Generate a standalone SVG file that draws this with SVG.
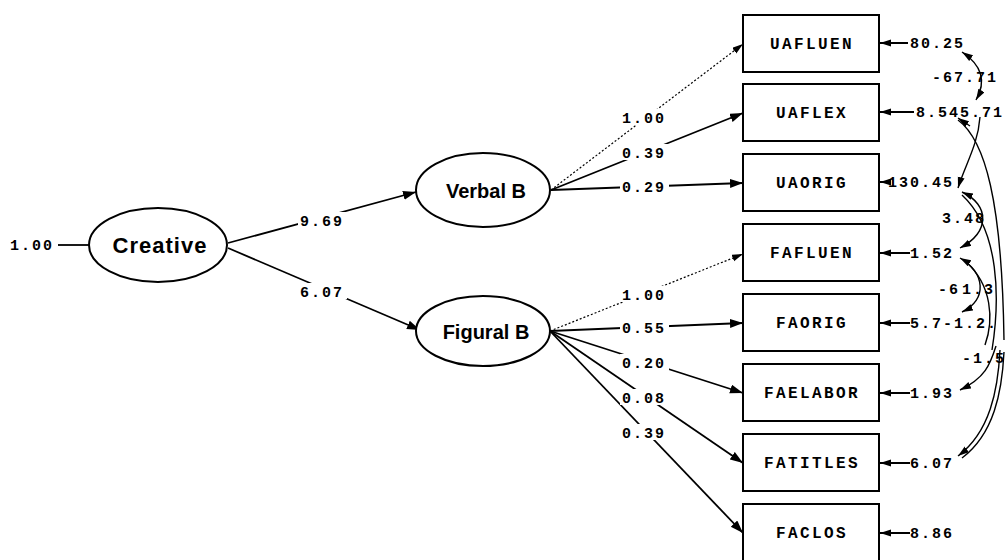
<svg xmlns="http://www.w3.org/2000/svg" width="1008" height="560" viewBox="0 0 1008 560">
<style>
.node-e{fill:#fff;stroke:#000;stroke-width:2}
.box{fill:#fff;stroke:#000;stroke-width:2}
.lat{font-family:"Liberation Sans",Arial,sans-serif;font-weight:bold;font-size:20px;text-anchor:middle;fill:#000}
.obs{font-family:"Liberation Mono","Courier New",monospace;font-weight:bold;font-size:16px;letter-spacing:2.4px;text-anchor:middle;fill:#000}
.num{font-family:"Liberation Mono","Courier New",monospace;font-weight:bold;font-size:15px;letter-spacing:2px;fill:#000}
.bg{fill:#fff;stroke:none}
.p{fill:none;stroke:#000;stroke-width:1.8}
.d{fill:none;stroke:#000;stroke-width:1.2;stroke-dasharray:2 2}
.e{fill:none;stroke:#000;stroke-width:2}
.c{fill:none;stroke:#000;stroke-width:1.4}
</style>
<defs>
<marker id="ah" markerUnits="userSpaceOnUse" markerWidth="14" markerHeight="10" refX="13" refY="4.5" orient="auto-start-reverse">
<path d="M0,0 L13,4.5 L0,9 z" fill="#000"/>
</marker>
<marker id="ahs" markerUnits="userSpaceOnUse" markerWidth="12" markerHeight="8" refX="11" refY="3.5" orient="auto-start-reverse">
<path d="M0,0 L11,3.5 L0,7 z" fill="#000"/>
</marker>
</defs>

<g id="connectors">
<line class="p" x1="58" y1="245" x2="89" y2="245"/>
<line class="p" x1="228" y1="243" x2="416" y2="192" marker-end="url(#ah)"/>
<line class="p" x1="228" y1="248" x2="420" y2="330" marker-end="url(#ah)"/>
<line class="d" x1="551" y1="190" x2="743" y2="44" marker-end="url(#ahs)"/>
<line class="p" x1="551" y1="190" x2="743" y2="113" marker-end="url(#ah)"/>
<line class="p" x1="551" y1="190" x2="743" y2="183" marker-end="url(#ah)"/>
<line class="d" x1="550" y1="331" x2="743" y2="254" marker-end="url(#ahs)"/>
<line class="p" x1="550" y1="331" x2="743" y2="323" marker-end="url(#ah)"/>
<line class="p" x1="550" y1="331" x2="743" y2="393" marker-end="url(#ah)"/>
<line class="p" x1="550" y1="331" x2="743" y2="463" marker-end="url(#ah)"/>
<line class="p" x1="550" y1="331" x2="743" y2="533" marker-end="url(#ah)"/>
<line class="e" x1="908" y1="43" x2="880" y2="43" marker-end="url(#ahs)"/>
<line class="e" x1="914" y1="112" x2="880" y2="112" marker-end="url(#ahs)"/>
<line class="e" x1="888" y1="182" x2="880" y2="182" marker-end="url(#ahs)"/>
<line class="e" x1="910" y1="253" x2="880" y2="253" marker-end="url(#ahs)"/>
<line class="e" x1="910" y1="323" x2="880" y2="323" marker-end="url(#ahs)"/>
<line class="e" x1="910" y1="393" x2="880" y2="393" marker-end="url(#ahs)"/>
<line class="e" x1="910" y1="463" x2="880" y2="463" marker-end="url(#ahs)"/>
<line class="e" x1="910" y1="533" x2="880" y2="533" marker-end="url(#ahs)"/>
<path class="c" d="M962,52 Q992,72 976,100" marker-start="url(#ahs)" marker-end="url(#ahs)"/>
<path class="c" d="M958,120 C985,140 1002,200 1004,340"/>
<path class="c" d="M980,117 C978,145 965,165 958,188" marker-end="url(#ahs)"/>
<path class="c" d="M958,118 L970,126" marker-start="url(#ahs)"/>
<path class="c" d="M962,192 C990,205 990,232 960,248" marker-start="url(#ahs)" marker-end="url(#ahs)"/>
<path class="c" d="M962,195 C1000,230 1000,300 992,350"/>
<path class="c" d="M960,258 C985,272 988,300 962,312" marker-start="url(#ahs)" marker-end="url(#ahs)"/>
<path class="c" d="M966,262 C992,285 994,320 985,345"/>
<path class="c" d="M960,390 C985,378 990,365 996,346" marker-start="url(#ahs)"/>
<path class="c" d="M958,456 C990,432 998,390 1000,350" marker-start="url(#ahs)"/>
<path class="c" d="M962,458 C994,434 1002,392 1004,352"/>
</g>

<g id="creative">
<ellipse class="node-e" cx="158" cy="245" rx="69" ry="37"/>
<text class="lat" x="160" y="253" style="font-size:22px;letter-spacing:1px">Creative</text>
</g>
<g id="verbal">
<ellipse class="node-e" cx="483" cy="190" rx="67" ry="37"/>
<text class="lat" x="486" y="198">Verbal B</text>
</g>
<g id="figural">
<ellipse class="node-e" cx="483" cy="331" rx="67" ry="35"/>
<text class="lat" x="486" y="339">Figural B</text>
</g>

<g id="uafluen"><rect class="box" x="743" y="15" width="136" height="57"/><text class="obs" x="812" y="49">UAFLUEN</text></g>
<g id="uaflex"><rect class="box" x="743" y="84" width="136" height="57"/><text class="obs" x="812" y="118">UAFLEX</text></g>
<g id="uaorig"><rect class="box" x="743" y="154" width="136" height="57"/><text class="obs" x="812" y="188">UAORIG</text></g>
<g id="fafluen"><rect class="box" x="743" y="224" width="136" height="57"/><text class="obs" x="812" y="258">FAFLUEN</text></g>
<g id="faorig"><rect class="box" x="743" y="294" width="136" height="57"/><text class="obs" x="812" y="328">FAORIG</text></g>
<g id="faelabor"><rect class="box" x="743" y="364" width="136" height="57"/><text class="obs" x="812" y="398">FAELABOR</text></g>
<g id="fatitles"><rect class="box" x="743" y="434" width="136" height="57"/><text class="obs" x="812" y="468">FATITLES</text></g>
<g id="faclos"><rect class="box" x="743" y="504" width="136" height="57"/><text class="obs" x="812" y="538">FACLOS</text></g>

<g id="label-bg">
<rect class="bg" x="298" y="212" width="49" height="16"/>
<rect class="bg" x="298" y="283" width="49" height="16"/>
<rect class="bg" x="620" y="109" width="49" height="16"/>
<rect class="bg" x="620" y="144" width="49" height="16"/>
<rect class="bg" x="620" y="178" width="49" height="16"/>
<rect class="bg" x="620" y="286" width="49" height="16"/>
<rect class="bg" x="620" y="319" width="49" height="16"/>
<rect class="bg" x="620" y="354" width="49" height="16"/>
<rect class="bg" x="620" y="389" width="49" height="16"/>
<rect class="bg" x="620" y="424" width="49" height="16"/>
</g>
<g id="labels">
<text class="num" x="10" y="250">1.00</text>
<text class="num" x="300" y="226">9.69</text>
<text class="num" x="300" y="297">6.07</text>
<text class="num" x="622" y="123">1.00</text>
<text class="num" x="622" y="158">0.39</text>
<text class="num" x="622" y="192">0.29</text>
<text class="num" x="622" y="300">1.00</text>
<text class="num" x="622" y="333">0.55</text>
<text class="num" x="622" y="368">0.20</text>
<text class="num" x="622" y="403">0.08</text>
<text class="num" x="622" y="438">0.39</text>
<text class="num" x="910" y="48">80.25</text>
<text class="num" x="932" y="82">-67.71</text>
<text class="num" x="916" y="117">8.545.71</text>
<text class="num" x="888" y="187">130.45</text>
<text class="num" x="942" y="223">3.48</text>
<text class="num" x="910" y="258">1.52</text>
<text class="num" x="938" y="294">-6</text>
<text class="num" x="962" y="294">1.3</text>
<text class="num" x="910" y="328">5.7-1.2.</text>
<text class="num" x="962" y="363">-1.5</text>
<text class="num" x="910" y="398">1.93</text>
<text class="num" x="910" y="468">6.07</text>
<text class="num" x="910" y="538">8.86</text>
</g>
</svg>
